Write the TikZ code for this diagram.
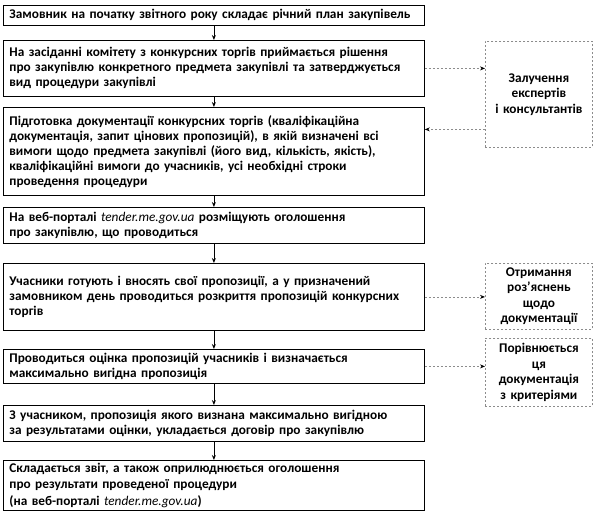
\documentclass[tikz,border=0pt]{standalone}
\usepackage{fontspec}
\setmainfont{Carlito}
\usetikzlibrary{arrows.meta,positioning,calc}
\definecolor{dsh}{HTML}{8C8C8C}
\newcommand{\portal}{\textmd{\itshape tender.me.gov.ua}}

\begin{document}
\begin{tikzpicture}[x=1pt,y=-1pt,
  stage/.style={draw,line width=0.8pt,anchor=north west,text width=409pt,
    inner xsep=6pt,inner ysep=0pt,align=left,
    font=\bfseries\fontsize{13.3}{15}\selectfont},
  side/.style={draw=dsh,line width=0.8pt,dash pattern=on 2pt off 2pt,anchor=north west,
    text width=105pt,inner xsep=1pt,inner ysep=0pt,align=center,
    font=\bfseries\fontsize{13.3}{15.5}\selectfont},
  flow/.style={-{Stealth[length=5pt,width=4pt]},line width=0.8pt},
  hint/.style={dsh,line width=0.8pt,dash pattern=on 2pt off 2pt,
    -{Stealth[length=5pt,width=4pt,black]}}]
  \useasboundingbox (0,0) rectangle (596,514);
  % main chain
  \node[stage,minimum height=20pt] (s1) at (3,5)
    {Замовник на початку звітного року складає річний план закупівель};
  \node[stage,minimum height=56pt] (s2) at (3,40)
    {На засіданні комітету з конкурсних торгів приймається рішення\\
     про закупівлю конкретного предмета закупівлі та затверджується\\
     вид процедури закупівлі};
  \node[stage,minimum height=88pt] (s3) at (3,107)
    {Підготовка документації конкурсних торгів (кваліфікаційна\\
     документація, запит цінових пропозицій), в якій визначені всі\\
     вимоги щодо предмета закупівлі (його вид, кількість, якість),\\
     кваліфікаційні вимоги до учасників, усі необхідні строки\\
     проведення процедури};
  \node[stage,minimum height=36pt] (s4) at (3,207)
    {На веб-порталі \portal{} розміщують оголошення\\
     про закупівлю, що проводиться};
  \node[stage,minimum height=67pt] (s5) at (3,263)
    {Учасники готують і вносять свої пропозиції, а у призначений\\
     замовником день проводиться розкриття пропозицій конкурсних\\
     торгів};
  \node[stage,minimum height=34pt] (s6) at (3,349)
    {Проводиться оцінка пропозицій учасників і визначається\\
     максимально вигідна пропозиція};
  \node[stage,minimum height=36pt] (s7) at (3,405)
    {З учасником, пропозиція якого визнана максимально вигідною\\
     за результатами оцінки, укладається договір про закупівлю};
  \node[stage,minimum height=50pt,font=\bfseries\fontsize{13.3}{16.5}\selectfont] (s8) at (3,460)
    {Складається звіт, а також оприлюднюється оголошення\\
     про результати проведеної процедури\\
     (на веб-порталі \portal)};
  % side boxes
  \node[side,minimum height=106pt] (ext) at (485,41)
    {Залучення\\експертів\\і консультантів};
  \node[side,minimum height=66pt] (expl) at (485,263)
    {Отримання\\роз’яснень\\щодо\\документації};
  \node[side,minimum height=68pt] (cmp) at (485,338)
    {Порівнюється\\ця\\документація\\з критеріями};
  \coordinate (back) at ($(ext.west)+(0,35)$);

  \foreach \a/\b in {s1/s2,s2/s3,s3/s4,s4/s5,s5/s6,s6/s7,s7/s8}
    \draw[flow] (\a) -- (\b);
  \draw[hint] (s2.east) -- (s2.east -| ext.west);
  \draw[hint] (back) -- (back -| s3.east);
  \draw[hint] (s5.east) -- (s5.east -| expl.west);
  \draw[hint] (s6.east) -- (s6.east -| cmp.west);
\end{tikzpicture}
\end{document}
